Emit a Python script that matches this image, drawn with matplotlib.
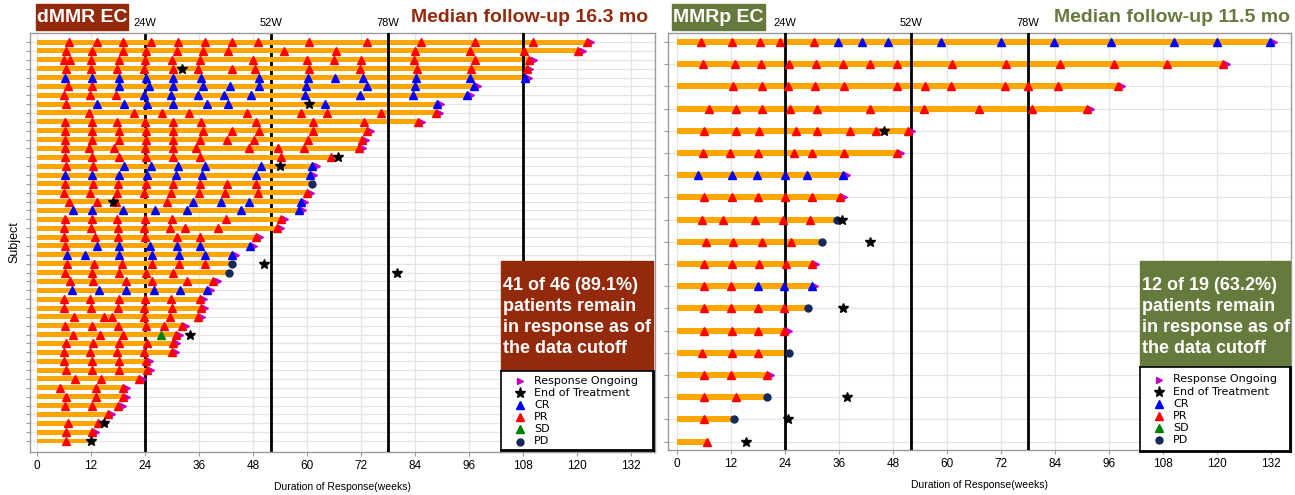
import matplotlib
matplotlib.use('Agg')
import matplotlib.pyplot as plt
from matplotlib import font_manager
from matplotlib.patches import Rectangle
import matplotlib.transforms as mtrans

# ---------------- data: dMMR EC (46 subjects, top to bottom) ----------------
dmmr_dur = [122.5, 120.6, 109.8, 109.0, 108.8, 97.4, 95.9, 89.2, 88.9, 85.0,
            73.6, 72.4, 71.8, 65.8, 61.5, 61.0, 61.0, 60.3, 59.0, 58.5,
            54.5, 53.7, 48.9, 47.6, 43.6, 43.0, 42.4, 39.5, 38.1, 36.5,
            36.8, 36.0, 32.5, 31.1, 30.5, 30.2, 24.6, 24.7, 23.0, 19.5,
            19.3, 18.4, 16.0, 14.6, 12.6, 12.0]
dmmr_ongoing = [True] * 46
for _i in (13, 16, 25, 26, 45):
    dmmr_ongoing[_i] = False
dmmr_pr = [
    [7.1, 13.4, 19.2, 25.4, 31.4, 37.3, 43.4, 49.1, 60.4, 73.3, 85.4, 97.2, 110.1, 122.2],
    [6.5, 12.2, 19.1, 24.3, 31.0, 36.8, 42.4, 54.9, 66.5, 84.0, 96.1, 108.2, 120.3],
    [6.0, 7.4, 11.9, 18.2, 24.0, 30.1, 36.1, 47.9, 60.0, 65.9, 71.9, 83.8, 97.2, 109.3],
    [6.5, 11.9, 17.7, 23.7, 30.3, 35.7, 43.3, 48.5, 60.4, 71.8, 84.4, 96.5, 108.8],
    [],
    [6.8, 12.3],
    [6.0, 11.8, 17.5],
    [6.5],
    [11.6, 21.6, 27.7, 33.7, 46.7, 58.7, 64.5, 76.5, 88.6],
    [6.2, 12.2, 17.8, 24.1, 30.3, 36.4, 48.6, 61.4, 72.6, 84.7],
    [6.3, 12.3, 18.2, 24.2, 30.3, 36.9, 43.3, 49.3, 61.3, 73.3],
    [6.2, 12.2, 18.2, 24.3, 30.3, 36.1, 42.3, 48.3, 60.2, 72.1],
    [6.2, 11.6, 17.1, 24.0, 30.3, 35.3, 47.1, 53.5, 59.3, 71.5],
    [6.2, 12.2, 18.2, 24.2, 30.3, 36.1, 54.3, 65.4],
    [6.5, 12.4],
    [],
    [6.3, 12.4, 18.1, 24.2, 30.3, 36.1, 42.1, 48.6],
    [6.0, 11.8, 17.8, 23.8, 29.8, 35.9, 41.7, 49.2, 60.0],
    [7.1, 13.3, 17.6, 28.8],
    [],
    [6.3, 12.2, 17.7, 24.0, 30.1, 41.9, 54.2],
    [6.1, 12.0, 18.0, 23.7, 29.6, 32.8, 40.3, 53.4],
    [6.1, 12.9, 18.1, 24.0, 31.0, 36.1, 48.6],
    [6.3],
    [],
    [6.7, 12.6, 18.8, 25.6, 31.5, 37.3],
    [6.3, 12.2, 18.2, 24.2, 30.3],
    [7.3, 12.4, 19.8, 25.5, 33.3, 39.2],
    [],
    [6.1, 11.8, 18.2, 23.9, 29.7, 36.2],
    [6.1, 12.0, 18.0, 23.7, 30.0, 36.5],
    [8.2, 14.9, 16.7, 23.8, 29.6, 35.7],
    [6.2, 12.2, 18.1, 24.2, 28.2, 32.2],
    [8.1, 14.0, 19.0, 30.8],
    [6.4, 12.4, 18.3, 24.4, 30.2],
    [6.0, 11.8, 17.7, 23.8, 29.9],
    [6.0, 12.3, 18.2, 24.2],
    [6.4, 12.3, 18.2, 24.4],
    [8.4, 14.2, 22.7],
    [5.1, 13.0, 19.2],
    [6.4, 13.0, 19.0],
    [6.3, 12.3, 18.1],
    [15.7],
    [6.8, 13.5],
    [6.4, 12.3],
    [6.4],
]
dmmr_cr = [
    [], [], [], [],
    [6.3, 12.3, 18.2, 24.2, 30.3, 36.4, 49.3, 60.3, 66.3, 72.5, 84.3, 96.1, 108.5],
    [18.2, 24.8, 30.3, 36.9, 42.8, 49.3, 59.8, 73.3, 83.9, 97.1],
    [23.8, 29.7, 35.7, 41.6, 47.5, 59.6, 71.7, 83.6, 95.6],
    [13.3, 19.3, 24.4, 30.3, 37.8, 42.4, 63.9, 88.9],
    [], [], [], [], [], [],
    [19.3, 25.4, 31.4, 37.3, 49.7, 61.2],
    [6.3, 12.3, 18.2, 24.5, 30.8, 36.7, 48.6, 60.7],
    [], [],
    [34.7, 40.9, 47.0, 58.7],
    [8.1, 12.3, 19.1, 26.3, 33.3, 45.3, 58.2],
    [], [], [],
    [13.3, 18.2, 25.2, 31.2, 36.2, 47.3],
    [6.6, 10.7, 18.2, 25.6, 31.6, 37.3, 43.3],
    [], [], [],
    [7.7, 13.8, 19.7, 25.9, 31.8, 37.8],
    [], [], [], [], [], [], [], [], [], [], [], [], [], [], [], [], [],
]
dmmr_sd_rows = [33]
dmmr_sd_weeks = [27.5]
dmmr_pd_rows = [16, 25, 26]
dmmr_pd_weeks = [61.2, 43.3, 42.7]
dmmr_eot_rows = [3, 7, 13, 14, 18, 25, 26, 33, 43, 45]
dmmr_eot_weeks = [32.2, 60.4, 66.9, 54.0, 16.8, 50.4, 79.9, 34.0, 14.9, 12.0]

# ---------------- data: MMRp EC (19 subjects, top to bottom) ----------------
mmrp_dur = [132.0, 121.6, 98.3, 91.3, 51.7, 49.1, 37.1, 36.4, 35.3, 32.0,
            30.3, 30.0, 29.0, 24.2, 24.6, 20.3, 20.0, 12.6, 6.6]
mmrp_ongoing = [True] * 19
for _i in (8, 9, 12, 14, 16, 17, 18):
    mmrp_ongoing[_i] = False
mmrp_pr = [
    [5.4, 12.2, 18.4, 22.8, 30.5],
    [5.8, 12.9, 18.7, 24.9, 30.9, 36.9, 42.8, 48.8, 61.0, 73.0, 85.1, 97.1, 108.9, 121.3],
    [12.5, 18.9, 24.6, 30.7, 37.0, 48.8, 55.0, 60.9, 72.8, 77.9, 84.7, 98.0],
    [7.0, 13.0, 18.9, 25.0, 31.0, 42.9, 54.9, 67.0, 78.9, 91.0],
    [6.1, 13.1, 18.3, 26.4, 31.2, 38.4, 44.2, 51.4],
    [5.7, 11.7, 17.9, 25.9, 29.9, 37.0, 48.8],
    [],
    [5.9, 12.2, 17.9, 24.1, 30.0, 36.1],
    [5.5, 10.3, 17.3, 23.6, 29.6],
    [6.4, 12.4, 18.9, 25.4],
    [5.9, 12.3, 18.3, 24.2, 30.0],
    [5.9, 11.9],
    [6.0, 12.0, 17.9, 23.8],
    [6.1, 12.2, 17.9, 23.8],
    [5.6, 12.3, 18.0],
    [6.0, 12.0, 19.9],
    [6.0, 13.1],
    [6.0],
    [6.6],
]
mmrp_cr = [
    [35.8, 41.2, 46.8, 58.7, 71.9, 83.7, 96.4, 110.5, 120.0, 131.8],
    [], [], [], [], [],
    [4.6, 12.3, 17.7, 23.9, 28.9, 36.8],
    [], [], [], [],
    [17.9, 23.8, 30.0],
    [], [], [], [], [], [], [],
]
mmrp_pd_rows = [8, 9, 12, 14, 16, 17]
mmrp_pd_weeks = [35.5, 32.2, 29.0, 24.8, 20.0, 12.6]
mmrp_eot_rows = [4, 8, 9, 12, 16, 17, 18]
mmrp_eot_weeks = [45.9, 36.6, 42.8, 36.9, 37.7, 24.6, 15.3]

x_ticks = list(range(0, 133, 12))
legend_labels = ['Response Ongoing', 'End of Treatment', 'CR', 'PR', 'SD', 'PD']

# ---------------- style ----------------
names = {f.name for f in font_manager.fontManager.ttflist}
NARROW = 'Liberation Sans Narrow' if 'Liberation Sans Narrow' in names else 'Liberation Sans'
BOLD = 'Liberation Sans'

C_BAR = '#FFA500'
C_PR = '#FF0000'
C_CR = '#0000FF'
C_SD = '#008000'
C_PD = '#14295A'
C_ARROW = '#BF00BF'
C_RED = '#942A0C'
C_GREEN = '#667A3E'

W, H = 1295, 495
fig = plt.figure(figsize=(W / 100, H / 100), dpi=100)


def fx(px):
    return px / W


def fy(py):
    return 1 - py / H


def panel(rect, n, dur, ongoing, pr, cr, sd_rows, sd_w, pd_rows, pd_w, eot_rows, eot_w,
          xlim, ylim, bar_h, under_lines, over_lines, labelled):
    ax = fig.add_axes(rect)
    ax.set_xlim(*xlim)
    ax.set_ylim(*ylim)
    ax.set_axisbelow(True)
    ax.set_xticks(x_ticks)
    ax.set_yticks(range(n))
    ax.set_yticklabels([])
    ax.grid(True, color='#E4E4E4', lw=0.9)
    for s in ax.spines.values():
        s.set_color('#9A9A9A')
        s.set_linewidth(1.0)
    ax.tick_params(axis='both', colors='#9A9A9A', length=3, width=0.8)
    ax.tick_params(axis='x', labelcolor='black', labelsize=8.5, pad=3)
    for lab in ax.get_xticklabels():
        lab.set_fontfamily(NARROW)
    ax.set_xlabel('Duration of Response(weeks)', fontsize=7.5, family=NARROW, labelpad=7)

    ys = list(range(n))
    ax.barh(ys, dur, left=0, height=bar_h, color=C_BAR, zorder=2)
    for x in under_lines:
        ax.axvline(x, color='black', lw=2, zorder=1.5)
    for x in over_lines:
        ax.axvline(x, color='black', lw=2, zorder=3)
    tr = mtrans.blended_transform_factory(ax.transData, ax.transAxes)
    for x in labelled:
        ax.text(x, 1.012, f'{x}W', transform=tr, ha='center', va='bottom',
                fontsize=8, family=NARROW)
    for i in range(n):
        if pr[i]:
            ax.plot(pr[i], [i] * len(pr[i]), ls='none', marker='^', ms=5.5,
                    color=C_PR, zorder=5)
        if cr[i]:
            ax.plot(cr[i], [i] * len(cr[i]), ls='none', marker='^', ms=5.5,
                    color=C_CR, zorder=5)
    arr_x = [d + 0.6 for d, o in zip(dur, ongoing) if o]
    arr_y = [i for i, o in zip(ys, ongoing) if o]
    ax.plot(arr_x, arr_y, ls='none', marker='>', ms=4.5, color=C_ARROW, zorder=4.5)
    ax.plot(sd_w, sd_rows, ls='none', marker='^', ms=5.5, color=C_SD, zorder=5)
    ax.plot(pd_w, pd_rows, ls='none', marker='o', ms=5, color=C_PD, zorder=5)
    ax.plot(eot_w, eot_rows, ls='none', marker='*', ms=7.5, color='black', zorder=6)
    return ax


axL = panel([fx(30), fy(452), fx(625), 419 / H], 46, dmmr_dur, dmmr_ongoing, dmmr_pr, dmmr_cr,
            dmmr_sd_rows, dmmr_sd_weeks, dmmr_pd_rows, dmmr_pd_weeks,
            dmmr_eot_rows, dmmr_eot_weeks,
            xlim=(-1.56, 137.3), ylim=(46.24, -1.02), bar_h=0.56,
            under_lines=[24, 52], over_lines=[78, 108], labelled=[24, 52, 78])
axL.set_ylabel('Subject', fontsize=9, family=BOLD)
axL.yaxis.set_label_coords(-0.015, 0.5)

axR = panel([fx(668.5), fy(450), fx(622.5), 417 / H], 19, mmrp_dur, mmrp_ongoing, mmrp_pr, mmrp_cr,
            [], [], mmrp_pd_rows, mmrp_pd_weeks,
            mmrp_eot_rows, mmrp_eot_weeks,
            xlim=(-1.89, 136.4), ylim=(18.38, -0.405), bar_h=0.27,
            under_lines=[], over_lines=[24, 52, 78], labelled=[24, 52, 78])


# ---------------- titles ----------------
def title_box(x0, x1, text, color):
    fig.add_artist(Rectangle((fx(x0), fy(30)), fx(x1 - x0), 26 / H,
                             transform=fig.transFigure, color=color, zorder=10))
    fig.text(fx((x0 + x1) / 2), fy(17), text, ha='center', va='center', color='white',
             fontsize=14, fontweight='bold', family=BOLD, zorder=11)


title_box(36, 128, 'dMMR EC', C_RED)
title_box(672, 765, 'MMRp EC', C_GREEN)
fig.text(fx(648), fy(17), 'Median follow-up 16.3 mo', ha='right', va='center',
         color=C_RED, fontsize=14, fontweight='bold', family=BOLD)
fig.text(fx(1290), fy(17), 'Median follow-up 11.5 mo', ha='right', va='center',
         color=C_GREEN, fontsize=14, fontweight='bold', family=BOLD)


# ---------------- summary boxes + legends ----------------
def summary(x0, x1, top, bottom, lines, color, leg_bottom):
    fig.add_artist(Rectangle((fx(x0), fy(bottom)), fx(x1 - x0), (bottom - top) / H,
                             transform=fig.transFigure, color=color, zorder=10))
    for k, t in enumerate(lines):
        fig.text(fx(x0 + 2.5), fy(285 + 21.1 * k), t, ha='left', va='center',
                 color='white', fontsize=13, fontweight='bold', family=BOLD, zorder=11)
    lax = fig.add_axes([fx(x0), fy(leg_bottom), fx(x1 - x0), (leg_bottom - bottom) / H], zorder=12)
    lax.set_xlim(0, x1 - x0)
    lax.set_ylim(leg_bottom - bottom, 0)
    lax.set_xticks([])
    lax.set_yticks([])
    for s in lax.spines.values():
        s.set_color('black')
        s.set_linewidth(1.2)
    lax.spines['right'].set_linewidth(2)
    lax.spines['bottom'].set_linewidth(2)
    styles = [('>', C_ARROW, 5), ('*', 'black', 8), ('^', C_CR, 6), ('^', C_PR, 6),
              ('^', C_SD, 6), ('o', C_PD, 5)]
    y0 = 10 + (leg_bottom - bottom - 79) / 2
    for k, (lab, (m, c, ms)) in enumerate(zip(legend_labels, styles)):
        yy = y0 + 12.1 * k
        lax.plot([19], [yy], ls='none', marker=m, color=c, ms=ms)
        lax.text(33, yy, lab, ha='left', va='center', fontsize=8, family='DejaVu Sans')


summary(501, 653, 261, 371, ['41 of 46 (89.1%)', 'patients remain', 'in response as of',
                             'the data cutoff'], C_RED, 450)
summary(1140, 1290, 261, 367, ['12 of 19 (63.2%)', 'patients remain', 'in response as of',
                               'the data cutoff'], C_GREEN, 451)

fig.savefig('out.png', dpi=100)
